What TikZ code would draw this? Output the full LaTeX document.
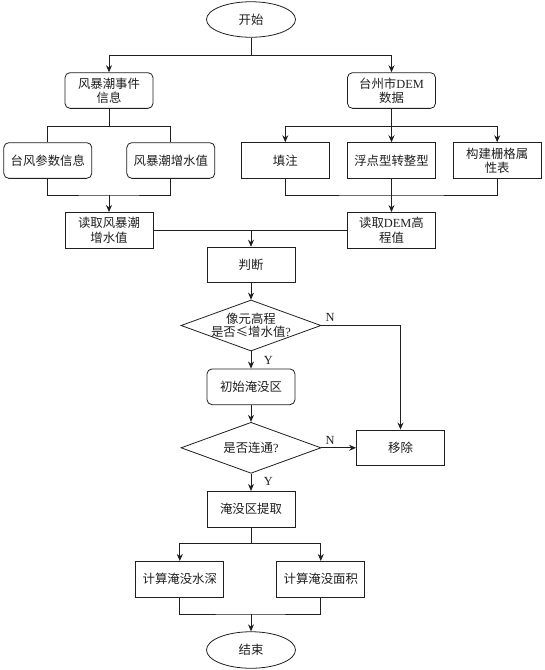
\documentclass[tikz,border=0pt]{standalone}
\usepackage{fontspec}
\setmainfont{Liberation Serif}
\newfontfamily\cjkfont{Noto Sans CJK SC}
\usetikzlibrary{shapes.geometric,arrows.meta}
\newcommand\zhx[1]{{\cjkfont #1}}
\begin{document}
\begin{tikzpicture}[x=1pt,y=-1pt,
  line width=0.8pt, color=black!88,
  every node/.style={font=\fontsize{12.4}{14.3}\selectfont},
  box/.style={draw, rectangle, minimum width=88, minimum height=35.7, align=center, inner sep=1pt},
  rbox/.style={box, rounded corners=5pt},
  term/.style={draw, ellipse, minimum width=89, minimum height=35.5, inner sep=0pt},
  dia/.style={draw, diamond, minimum width=140, minimum height=51, inner sep=0pt},
  lbl/.style={inner sep=0pt, align=center},
  arr/.style={-{Stealth[length=7pt,width=6pt]}}]
\useasboundingbox (0,0) rectangle (545,670);

% nodes
\node[term] (start) at (251,19.5) {\zhx{开始}};
\node[rbox] (e1) at (109,90.5) {\zhx{风暴潮事件}\\\zhx{信息}};
\node[rbox] (dem) at (391.5,90.5) {\zhx{台州市}DEM\\\zhx{数据}};
\node[rbox] (tf) at (47.8,160.5) {\zhx{台风参数信息}};
\node[rbox] (fz) at (170.8,160.5) {\zhx{风暴潮增水值}};
\node[box] (tz) at (285.3,160.5) {\zhx{填注}};
\node[box] (fd) at (391.5,160.5) {\zhx{浮点型转整型}};
\node[box] (gj) at (497.2,160.5) {\zhx{构建栅格属}\\\zhx{性表}};
\node[box] (rd1) at (109,230.3) {\zhx{读取风暴潮}\\\zhx{增水值}};
\node[box] (rd2) at (391.5,230.3) {\zhx{读取}DEM\zhx{高}\\\zhx{程值}};
\node[box] (pd) at (251,265) {\zhx{判断}};
\node[dia] (d1) at (251,325.5) {};
\node[lbl, font=\fontsize{12.4}{13}\selectfont] (d1t) at (d1.center) {\zhx{像元高程}\\\zhx{是否≤增水值}?};
\node[rbox] (cs) at (251,386.8) {\zhx{初始淹没区}};
\node[dia] (d2) at (251,447.8) {};
\node[lbl] (d2t) at (d2.center) {\zhx{是否连通}?};
\node[box] (yc) at (400.5,447.8) {\zhx{移除}};
\node[box] (tq) at (251,509.2) {\zhx{淹没区提取}};
\node[box] (js) at (179.8,579.2) {\zhx{计算淹没水深}};
\node[box] (mj) at (320.8,579.2) {\zhx{计算淹没面积}};
\node[term, minimum height=36.5] (end) at (251,650) {\zhx{结束}};

% labels
\node[lbl] (n1) at (330,317) {N};
\node[lbl] (n2) at (330,440) {N};
\node[lbl] (y1) at (268.3,360.7) {Y};
\node[lbl] (y2) at (268.3,481.7) {Y};

% connectors
\coordinate (j1) at (251,55);
\draw (start.south) -- (j1);
\draw[arr] (j1) -| (e1.north);
\draw[arr] (j1) -| (dem.north);

\coordinate (j2) at (109,126);
\draw (e1.south) -- (j2);
\draw (j2) -| (tf.north);
\draw (j2) -| (fz.north);

\coordinate (j3) at (391.5,126);
\draw (dem.south) -- (j3);
\draw[arr] (j3) -| (tz.north);
\draw[arr] (j3) -- (fd.north);
\draw[arr] (j3) -| (gj.north);

\coordinate (j4) at (109,195);
\draw (tf.south) |- (j4) -| (fz.south);
\draw[arr] (j4) -- (rd1.north);

\coordinate (j5) at (391.5,195);
\draw (tz.south) |- (j5) -| (gj.south);
\draw[arr] (fd.south) -- (rd2.north);

\draw (rd1.east) -- (rd2.west);
\coordinate (j6) at (pd.north |- rd1.east);
\draw[arr] (j6) -- (pd.north);

\draw[arr] (pd.south) -- (d1.north);
\draw[arr] (d1.south) -- (cs.north);
\draw[arr] (d1.east) -| (yc.north);
\draw[arr] (cs.south) -- (d2.north);
\draw[arr] (d2.east) -- (yc.west);
\draw[arr] (d2.south) -- (tq.north);

\coordinate (j7) at (251,543.3);
\draw (tq.south) -- (j7);
\draw[arr] (j7) -| (js.north);
\draw[arr] (j7) -| (mj.north);

\coordinate (j8) at (251,614);
\draw (js.south) |- (j8) -| (mj.south);
\draw[arr] (j8) -- (end.north);
\end{tikzpicture}
\end{document}
